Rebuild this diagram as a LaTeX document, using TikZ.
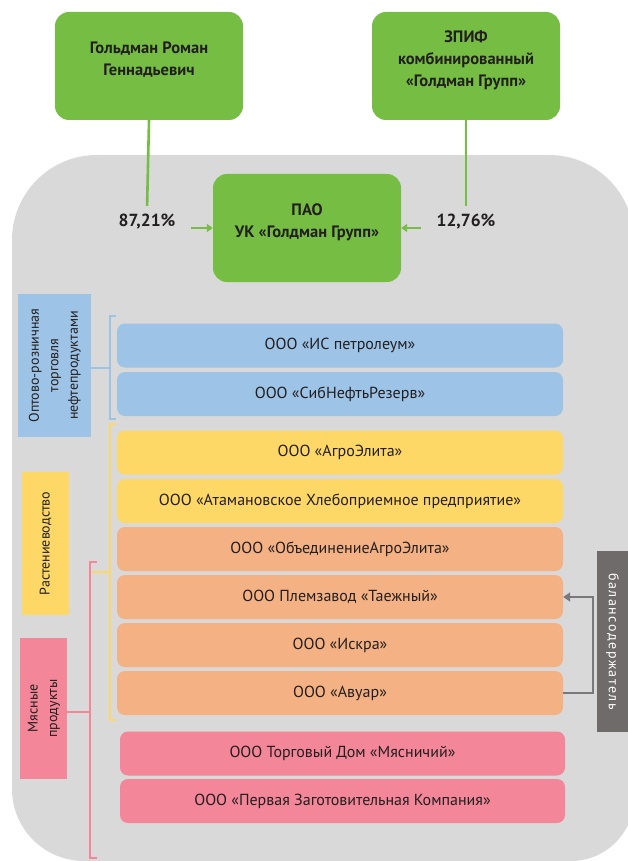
\documentclass[tikz,border=0pt]{standalone}
\usepackage{fontspec}
\setmainfont{PT Sans}
\usetikzlibrary{arrows.meta}
\definecolor{grn}{HTML}{76BE43}
\definecolor{bgg}{HTML}{D9D9D9}
\definecolor{blu}{HTML}{9DC3E6}
\definecolor{ylw}{HTML}{FED866}
\definecolor{org}{HTML}{F4B183}
\definecolor{pnk}{HTML}{F38698}
\definecolor{dgr}{HTML}{6F6B6A}
\definecolor{arr}{HTML}{7A7878}
\definecolor{txt}{HTML}{231F20}
\tikzset{
owner/.style={fill=grn, rounded corners=14pt, minimum width=188pt, minimum height=108pt,
  align=center, text=txt, font=\fontsize{16.5}{22}\selectfont\bfseries},
share/.style={text=txt, font=\fontsize{17.5}{20}\selectfont\bfseries},
own/.style={draw=grn, line width=2.6pt},
firm/.style={rounded corners=8pt, minimum width=446pt, minimum height=44pt,
  text=txt, font=\fontsize{16}{19}\selectfont},
branch/.style={inner sep=0pt, text=txt, font=\fontsize{14}{19.5}\selectfont},
brace/.style={line width=2.4pt}
}
\begin{document}
\begin{tikzpicture}[x=1pt,y=-1pt]
\useasboundingbox (0,0) rectangle (628,861);
\fill[bgg] (12,500) [rounded corners=85pt] -- (12,155) -- (634,155)
  [rounded corners=63pt] -- (634,861) [rounded corners=72pt] -- (12,861) -- cycle;

\node[owner] (goldman) at (149,66) {Гольдман Роман\\Геннадьевич\\[-8pt]};
\node[owner] (zpif) at (466,66) {ЗПИФ\\комбинированный\\«Голдман Групп»\\[-8pt]};
\node[owner] (pao) at (307,228) {ПАО\\УК «Голдман Групп»\\[-8pt]};
\node[share] (s1) at (147,222) {87,21\%};
\node[share] (s2) at (466,222) {12,76\%};
\draw[own,shorten >=5pt] (goldman.south) -- (s1.north);
\draw[own,shorten >=5pt] (zpif.south) -- (s2.north);
\draw[own,shorten <=12pt,-{Triangle[length=6pt,width=8pt]}] (s1.east |- pao.west) -- (pao.west);
\draw[own,shorten <=12pt,-{Triangle[length=6pt,width=8pt]}] (s2.west |- pao.east) -- (pao.east);

\node[firm,fill=blu] (ip) at (340,345.5) {ООО «ИС петролеум»};
\node[firm,fill=blu] (sib) at (340,394) {ООО «СибНефтьРезерв»};
\node[firm,fill=ylw] (agro) at (340,452.5) {ООО «АгроЭлита»};
\node[firm,fill=ylw] (atam) at (340,501) {ООО «Атамановское Хлебоприемное предприятие»};
\node[firm,fill=org] (obed) at (340,549) {ООО «ОбъединениеАгроЭлита»};
\node[firm,fill=org] (plem) at (340,597) {ООО Племзавод «Таежный»};
\node[firm,fill=org] (iskra) at (340,645) {ООО «Искра»};
\node[firm,fill=org] (avuar) at (340,693) {ООО «Авуар»};
\node[firm,fill=pnk,minimum width=445pt] (myas) at (342.5,753.5) {ООО Торговый Дом «Мясничий»};
\node[firm,fill=pnk,minimum width=445pt] (perv) at (342.5,801) {ООО «Первая Заготовительная Компания»};

\node[branch,fill=blu,minimum width=73pt,minimum height=143pt] (oil) at (54.5,365.5)
  {\rotatebox{90}{\begin{tabular}{@{}c@{}}Оптово-розничная\\торговля\\нефтепродуктами\end{tabular}}};
\node[branch,fill=ylw,minimum width=47pt,minimum height=143pt] (crop) at (45.5,543.5)
  {\rotatebox{90}{Растениеводство}};
\node[branch,fill=pnk,minimum width=47pt,minimum height=141pt] (meat) at (43.5,708.5)
  {\rotatebox{90}{\begin{tabular}{@{}c@{}}Мясные\\продукты\end{tabular}}};
\node[branch,fill=dgr,text=white,minimum width=31pt,minimum height=181pt] (holder) at (612.5,641.5)
  {\rotatebox{-90}{\addfontfeatures{LetterSpace=11}\fontsize{14}{16}\selectfont балансодержатель}};

\draw[brace,draw=blu] (116,316) -- (110,316) -- (110,419) -- (116,419);
\coordinate (oilbr) at (110,368);
\draw[brace,draw=blu] (oil.east |- oilbr) -- (oilbr);
\draw[brace,draw=ylw] (116,424) -- (110,424) -- (110,720) -- (116,720);
\coordinate (cropbr) at (110,572);
\draw[brace,draw=ylw] (92,572) -- (cropbr);
\draw[brace,draw=pnk] (97,562) -- (90,562) -- (90,858) -- (97,858);
\coordinate (meatbr) at (90,712);
\draw[brace,draw=pnk] (meat.east |- meatbr) -- (meatbr);

\draw[draw=arr,line width=2.4pt,-{Triangle[length=7pt,width=9pt]}] (avuar.east) -- ++(30,0) |- (plem.east);
\end{tikzpicture}
\end{document}
